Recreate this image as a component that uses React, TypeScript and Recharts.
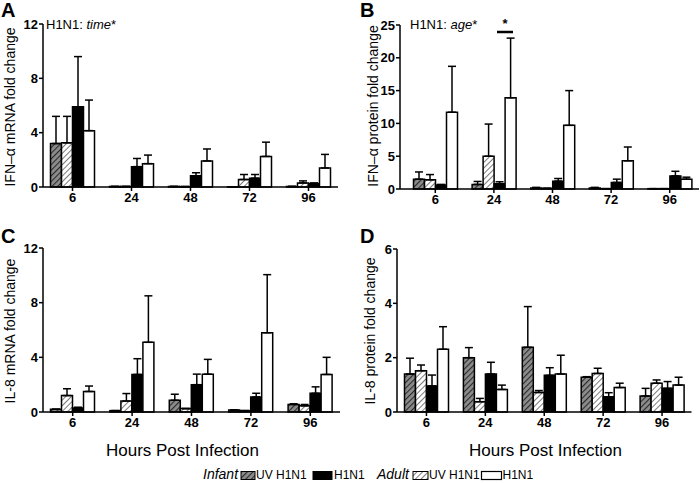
import { BarChart, Bar, XAxis, YAxis, ErrorBar } from "recharts";

const FONT = '"Liberation Sans", Arial, sans-serif';

const hours = ["6", "24", "48", "72", "96"];

// A: IFN-alpha mRNA
const ifnMrnaInfUv = [3.2, 0.04, 0.04, 0.02, 0.04];
const ifnMrnaInfUvErr = [2.0, 0, 0, 0, 0];
const ifnMrnaAdUv = [3.25, 0.04, 0.03, 0.55, 0.3];
const ifnMrnaAdUvErr = [1.95, 0, 0, 0.37, 0.15];
const ifnMrnaInfH1 = [5.9, 1.5, 0.82, 0.65, 0.25];
const ifnMrnaInfH1Err = [3.7, 0.6, 0.23, 0.27, 0.05];
const ifnMrnaAdH1 = [4.15, 1.72, 1.92, 2.25, 1.4];
const ifnMrnaAdH1Err = [2.25, 0.63, 0.88, 1.05, 1.0];

// B: IFN-alpha protein
const ifnProtInfUv = [1.5, 0.7, 0.15, 0.15, 0.05];
const ifnProtInfUvErr = [1.1, 0.45, 0.1, 0.1, 0];
const ifnProtAdUv = [1.4, 5.0, 0.1, 0.05, 0.05];
const ifnProtAdUvErr = [0.8, 4.9, 0, 0, 0];
const ifnProtInfH1 = [0.6, 0.8, 1.2, 1.0, 2.0];
const ifnProtInfH1Err = [0.1, 0.3, 0.4, 0.5, 0.7];
const ifnProtAdH1 = [11.7, 13.9, 9.7, 4.3, 1.5];
const ifnProtAdH1Err = [7.0, 9.1, 5.3, 2.1, 0.3];

// C: IL-8 mRNA
const il8MrnaInfUv = [0.2, 0.1, 0.86, 0.15, 0.55];
const il8MrnaInfUvErr = [0, 0, 0.44, 0, 0.05];
const il8MrnaAdUv = [1.2, 0.8, 0.25, 0.1, 0.45];
const il8MrnaAdUvErr = [0.5, 0.55, 0, 0, 0.1];
const il8MrnaInfH1 = [0.3, 2.75, 2.0, 1.1, 1.37];
const il8MrnaInfH1Err = [0.05, 1.15, 0.77, 0.27, 0.47];
const il8MrnaAdH1 = [1.5, 5.1, 2.77, 5.8, 2.75];
const il8MrnaAdH1Err = [0.4, 3.4, 1.08, 4.25, 1.25];

// D: IL-8 protein
const il8ProtInfUv = [1.4, 2.0, 2.38, 1.28, 0.59];
const il8ProtInfUvErr = [0.58, 0.37, 1.5, 0.02, 0.28];
const il8ProtAdUv = [1.52, 0.38, 0.72, 1.42, 1.06];
const il8ProtAdUvErr = [0.21, 0.12, 0.07, 0.19, 0.12];
const il8ProtInfH1 = [0.96, 1.4, 1.35, 0.56, 0.87];
const il8ProtInfH1Err = [0.4, 0.43, 0.28, 0.15, 0.25];
const il8ProtAdH1 = [2.31, 0.83, 1.4, 0.9, 0.99];
const il8ProtAdH1Err = [0.83, 0.16, 0.69, 0.16, 0.29];

const ticks12 = [0, 4, 8, 12];
const ticks25 = [0, 5, 10, 15, 20, 25];
const ticks6 = [0, 2, 4, 6];

function rows(
  infUv: number[], infUvErr: number[],
  adUv: number[], adUvErr: number[],
  infH1: number[], infH1Err: number[],
  adH1: number[], adH1Err: number[]
) {
  return hours.map((hour, i) => ({
    hour,
    infUv: infUv[i], infUvErr: [0, infUvErr[i]],
    adUv: adUv[i], adUvErr: [0, adUvErr[i]],
    infH1: infH1[i], infH1Err: [0, infH1Err[i]],
    adH1: adH1[i], adH1Err: [0, adH1Err[i]],
  }));
}

const series = [
  { key: "infUv", fill: "url(#hatchDark)" },
  { key: "adUv", fill: "url(#hatchLight)" },
  { key: "infH1", fill: "#000" },
  { key: "adH1", fill: "#fff" },
];

const tickStyle = { fill: "#000", fontSize: 13, fontWeight: 700, fontFamily: FONT };
const axisStyle = { stroke: "#000", strokeWidth: 1.5 };

function Panel(props: {
  left: number; top: number; width: number; height: number;
  marginTop: number; marginRight: number; padLeft: number;
  data: any[]; domain: [number, number]; ticks: number[];
}) {
  const { left, top, width, height, marginTop, marginRight, padLeft, data, domain, ticks } = props;
  return (
    <div style={{ position: "absolute", left, top }}>
      <BarChart
        width={width}
        height={height}
        data={data}
        margin={{ top: marginTop, right: marginRight, left: 0, bottom: 0 }}
        barCategoryGap={7.5}
        barGap={0}
      >
        <XAxis
          dataKey="hour"
          interval={0}
          height={23}
          padding={{ left: padLeft, right: 0 }}
          axisLine={axisStyle}
          tickLine={axisStyle}
          tickSize={4}
          tickMargin={2}
          tick={tickStyle}
        />
        <YAxis
          width={43}
          domain={domain}
          ticks={ticks}
          interval={0}
          axisLine={axisStyle}
          tickLine={axisStyle}
          tickSize={4}
          tickMargin={1}
          tick={tickStyle}
        />
        {series.map((s) => (
          <Bar key={s.key} dataKey={s.key} fill={s.fill} stroke="#000" strokeWidth={1.5} isAnimationActive={false}>
            <ErrorBar dataKey={s.key + "Err"} direction="y" width={4} stroke="#000" strokeWidth={1.5} />
          </Bar>
        ))}
      </BarChart>
    </div>
  );
}

const dataA = rows(ifnMrnaInfUv, ifnMrnaInfUvErr, ifnMrnaAdUv, ifnMrnaAdUvErr, ifnMrnaInfH1, ifnMrnaInfH1Err, ifnMrnaAdH1, ifnMrnaAdH1Err);
const dataB = rows(ifnProtInfUv, ifnProtInfUvErr, ifnProtAdUv, ifnProtAdUvErr, ifnProtInfH1, ifnProtInfH1Err, ifnProtAdH1, ifnProtAdH1Err);
const dataC = rows(il8MrnaInfUv, il8MrnaInfUvErr, il8MrnaAdUv, il8MrnaAdUvErr, il8MrnaInfH1, il8MrnaInfH1Err, il8MrnaAdH1, il8MrnaAdH1Err);
const dataD = rows(il8ProtInfUv, il8ProtInfUvErr, il8ProtAdUv, il8ProtAdUvErr, il8ProtInfH1, il8ProtInfH1Err, il8ProtAdH1, il8ProtAdH1Err);

export default function App() {
  return (
    <div style={{ position: "absolute", left: 0, top: 0, width: 700, height: 483, background: "#fff", fontFamily: FONT, overflow: "hidden" }}>
      <svg width={0} height={0} style={{ position: "absolute" }}>
        <defs>
          <pattern id="hatchDark" patternUnits="userSpaceOnUse" width={4} height={4} patternTransform="rotate(45)">
            <rect width={4} height={4} fill="#8c8c8c" />
            <line x1={0} y1={0} x2={0} y2={4} stroke="#2a2a2a" strokeWidth={2.2} />
          </pattern>
          <pattern id="hatchLight" patternUnits="userSpaceOnUse" width={4} height={4} patternTransform="rotate(45)">
            <rect width={4} height={4} fill="#fff" />
            <line x1={0} y1={0} x2={0} y2={4} stroke="#333" strokeWidth={1.3} />
          </pattern>
        </defs>
      </svg>

      <Panel left={0} top={0} width={345} height={210} marginTop={24} marginRight={7} padLeft={0} data={dataA} domain={[0, 12]} ticks={ticks12} />
      <Panel left={357} top={0} width={343} height={212} marginTop={25} marginRight={1} padLeft={6} data={dataB} domain={[0, 25]} ticks={ticks25} />
      <Panel left={0} top={224} width={345} height={211} marginTop={24} marginRight={5} padLeft={0} data={dataC} domain={[0, 12]} ticks={ticks12} />
      <Panel left={354} top={224} width={340} height={211} marginTop={25} marginRight={2.5} padLeft={0} data={dataD} domain={[0, 6]} ticks={ticks6} />

      <svg width={700} height={483} style={{ position: "absolute", left: 0, top: 0, pointerEvents: "none" }} fontFamily={FONT}>
        <text x={1} y={17} fontSize={20} fontWeight={700}>A</text>
        <text x={360} y={17} fontSize={20} fontWeight={700}>B</text>
        <text x={1} y={243} fontSize={20} fontWeight={700}>C</text>
        <text x={360} y={243} fontSize={20} fontWeight={700}>D</text>

        <text transform="translate(15,107) rotate(-90)" textAnchor="middle" fontSize={14}>IFN–α mRNA fold change</text>
        <text transform="translate(378,106) rotate(-90)" textAnchor="middle" fontSize={14}>IFN–α protein fold change</text>
        <text transform="translate(15,331) rotate(-90)" textAnchor="middle" fontSize={14}>IL-8 mRNA fold change</text>
        <text transform="translate(375,331) rotate(-90)" textAnchor="middle" fontSize={14}>IL-8 protein fold change</text>

        <text x={46} y={29} fontSize={13}>H1N1: <tspan fontStyle="italic">time</tspan>*</text>
        <text x={410} y={29} fontSize={13}>H1N1: <tspan fontStyle="italic">age</tspan>*</text>
        <line x1={497} x2={513} y1={32} y2={32} stroke="#000" strokeWidth={2.5} />
        <text x={505} y={28} fontSize={13} fontWeight={700} textAnchor="middle">*</text>

        <text x={182.5} y={456} fontSize={17} textAnchor="middle">Hours Post Infection</text>
        <text x={545.5} y={456} fontSize={17} textAnchor="middle">Hours Post Infection</text>

        <text x={203} y={479} fontSize={14} fontStyle="italic">Infant</text>
        <rect x={241} y={471.5} width={14} height={8} fill="url(#hatchDark)" stroke="#000" strokeWidth={1} />
        <text x={256} y={479} fontSize={12}>UV H1N1</text>
        <rect x={313} y={471.5} width={19} height={8} fill="#000" stroke="#000" strokeWidth={1} />
        <text x={334} y={479} fontSize={12}>H1N1</text>
        <text x={377} y={479} fontSize={14} fontStyle="italic">Adult</text>
        <rect x={413} y={471.5} width={15} height={8} fill="url(#hatchLight)" stroke="#000" strokeWidth={1} />
        <text x={429} y={479} fontSize={12}>UV H1N1</text>
        <rect x={481.5} y={471.5} width={20} height={8} fill="#fff" stroke="#000" strokeWidth={1.2} />
        <text x={502.5} y={479} fontSize={12}>H1N1</text>
      </svg>
    </div>
  );
}
